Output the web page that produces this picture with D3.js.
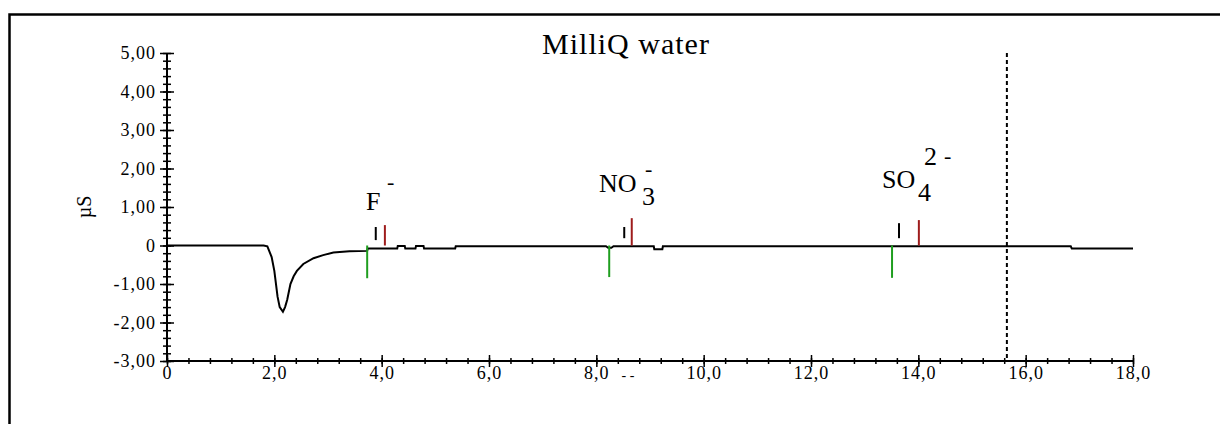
<!DOCTYPE html>
<html>
<head>
<meta charset="utf-8">
<script src="https://cdn.jsdelivr.net/npm/d3@7"></script>
<style>
  body { margin: 0; background: #fff; }
  svg { display: block; }
</style>
</head>
<body>
<div id="chart-area"></div>
<script>
// chromatogram trace (time in min, conductivity in µS)
const traceTime = [0, 1.80, 1.87, 1.95, 2.00, 2.06, 2.10, 2.16, 2.20, 2.24, 2.30, 2.36, 2.42, 2.54, 2.73, 2.91, 3.10, 3.40, 3.73,
    3.74, 4.29, 4.30, 4.43, 4.44, 4.63, 4.64, 4.78, 4.79, 5.37, 5.38, 8.18, 8.22, 8.28, 8.32, 9.07, 9.08, 9.23, 9.24,
    16.84, 16.86, 18.0];
const traceValue = [0, 0, -0.02, -0.30, -0.66, -1.33, -1.60, -1.72, -1.60, -1.41, -1.00, -0.80, -0.66, -0.48, -0.33, -0.25, -0.18, -0.15, -0.14,
    -0.08, -0.08, -0.01, -0.01, -0.08, -0.08, -0.01, -0.01, -0.08, -0.08, -0.02, -0.02, -0.06, -0.06, -0.02, -0.02, -0.10, -0.10, -0.02,
    -0.02, -0.08, -0.08];

// ion window markers
const ionNames = ["F", "NO3", "SO4"];
const greenTime = [3.73, 8.24, 13.51];
const greenValue = [-0.85, -0.82, -0.84];
const blackTime = [3.89, 8.52, 13.64];
const blackLow = [0.14, 0.19, 0.19];
const blackHigh = [0.48, 0.48, 0.58];
const redTime = [4.06, 8.66, 14.01];
const redValue = [0.53, 0.71, 0.66];

const endTime = 15.65;

const yTicks = [5, 4, 3, 2, 1, 0, -1, -2, -3];
const yTickLabels = ["5,00", "4,00", "3,00", "2,00", "1,00", "0", "-1,00", "-2,00", "-3,00"];
const xTicks = [0, 2, 4, 6, 8, 10, 12, 14, 16, 18];
const xTickLabels = ["0", "2,0", "4,0", "6,0", "8,0", "10,0", "12,0", "14,0", "16,0", "18,0"];

const svgWidth = 1220, svgHeight = 424;
const x = d3.scaleLinear().domain([0, 18]).range([167, 1133]);
const y = d3.scaleLinear().domain([-3, 5]).range([361, 53]);
const serif = "'Liberation Serif', 'Times New Roman', serif";

const svg = d3.select("#chart-area").append("svg")
    .attr("width", svgWidth)
    .attr("height", svgHeight);

// frame (only top and left are inside the picture)
svg.append("rect")
    .attr("x", 9.5).attr("y", 14.5)
    .attr("width", 1300).attr("height", 500)
    .attr("fill", "none").attr("stroke", "#000").attr("stroke-width", 2.5);

// title
svg.append("text")
    .attr("x", 626).attr("y", 54)
    .attr("text-anchor", "middle")
    .style("font-family", serif)
    .style("font-size", "30px")
    .style("letter-spacing", "1px")
    .text("MilliQ water");

const styleAxis = g => {
    g.selectAll("line").attr("stroke", "#000").attr("stroke-width", 1.5);
    g.selectAll("text")
        .attr("font-family", serif)
        .attr("font-size", 18)
        .style("letter-spacing", "1px")
        .attr("fill", "#000");
};

// y axis: minor ticks, then major ticks + labels
svg.append("g")
    .attr("transform", `translate(${x(0)},0)`)
    .call(d3.axisLeft(y).tickValues(d3.range(-3, 5.001, 0.2)).tickFormat("").tickSize(4))
    .call(g => g.selectAll(".tick line").attr("x2", -4).attr("x1", 4))
    .call(styleAxis)
    .call(g => g.select(".domain").remove());

svg.append("g")
    .attr("transform", `translate(${x(0)},0)`)
    .call(d3.axisLeft(y).tickValues(yTicks).tickSize(7).tickPadding(4)
        .tickFormat((d, i) => yTickLabels[i]))
    .call(g => g.selectAll(".tick line").attr("x2", -7).attr("x1", 7))
    .call(styleAxis)
    .call(g => g.select(".domain").attr("d", `M0,${y(5)}V${y(-3)}`).attr("stroke", "#000").attr("stroke-width", 2));

// x axis
svg.append("g")
    .attr("transform", `translate(0,${y(-3)})`)
    .call(d3.axisBottom(x).tickValues(d3.range(0, 18.001, 0.4)).tickFormat("").tickSize(3))
    .call(g => g.selectAll(".tick line").attr("y1", -3))
    .call(styleAxis)
    .call(g => g.select(".domain").remove());

svg.append("g")
    .attr("transform", `translate(0,${y(-3)})`)
    .call(d3.axisBottom(x).tickValues(xTicks).tickSize(6)
        .tickFormat((d, i) => xTickLabels[i]))
    .call(g => g.selectAll(".tick line").attr("y1", -6))
    .call(styleAxis)
    .call(g => g.selectAll(".tick text").attr("y", 5))
    .call(g => g.select(".domain").attr("d", `M${x(0)},0H${x(18)}`).attr("stroke", "#000").attr("stroke-width", 2));

// truncated x-axis title
svg.append("text")
    .attr("x", 628).attr("y", 380)
    .attr("text-anchor", "middle")
    .style("font-family", serif)
    .style("font-size", "14px")
    .text("- -");

// y-axis title
svg.append("text")
    .attr("transform", `translate(91,207) rotate(-90)`)
    .attr("text-anchor", "middle")
    .style("font-family", serif)
    .style("font-size", "20px")
    .text("µS");

// end-of-run dashed line
svg.append("line")
    .attr("x1", x(endTime)).attr("x2", x(endTime))
    .attr("y1", y(5)).attr("y2", y(-3))
    .attr("stroke", "#000").attr("stroke-width", 2)
    .attr("stroke-dasharray", "4,3");

// trace
const tracePoints = traceTime.map((t, i) => [t, traceValue[i]]);
svg.append("path")
    .datum(tracePoints)
    .attr("fill", "none")
    .attr("stroke", "#000")
    .attr("stroke-width", 2)
    .attr("d", d3.line().x(d => x(d[0])).y(d => y(d[1])));

// markers
const markers = svg.append("g");
ionNames.forEach((name, i) => {
    markers.append("line")
        .attr("x1", x(greenTime[i])).attr("x2", x(greenTime[i]))
        .attr("y1", y(0)).attr("y2", y(greenValue[i]))
        .attr("stroke", "#1f9e1f").attr("stroke-width", 2);
    markers.append("line")
        .attr("x1", x(blackTime[i])).attr("x2", x(blackTime[i]))
        .attr("y1", y(blackLow[i])).attr("y2", y(blackHigh[i]))
        .attr("stroke", "#000").attr("stroke-width", 2);
    markers.append("line")
        .attr("x1", x(redTime[i])).attr("x2", x(redTime[i]))
        .attr("y1", y(0)).attr("y2", y(redValue[i]))
        .attr("stroke", "#9e1c1c").attr("stroke-width", 2);
});

// ion labels
const ionText = (tx, ty, s, size) => svg.append("text")
    .attr("x", tx).attr("y", ty)
    .style("font-family", serif)
    .style("font-size", size + "px")
    .text(s);

ionText(366, 210, "F", 26);
ionText(387, 189, "-", 22);

ionText(599, 192, "NO", 26);
ionText(642, 205, "3", 26);
ionText(645, 176, "-", 22);

ionText(882, 188, "SO", 26);
ionText(918, 201, "4", 26);
ionText(924, 165, "2", 26);
ionText(944, 163, "-", 22);
</script>
</body>
</html>
